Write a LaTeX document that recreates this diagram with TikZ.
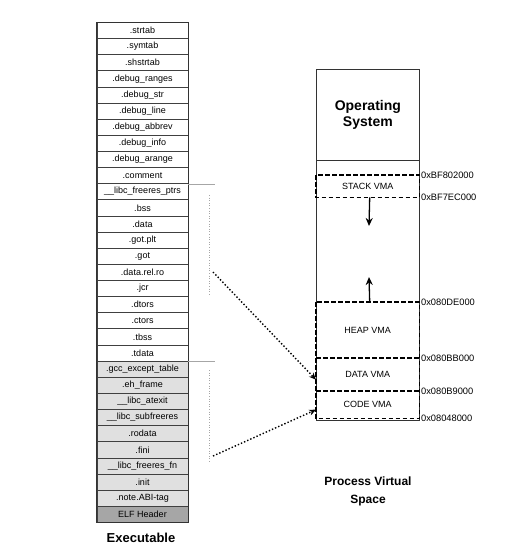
\documentclass[tikz,border=0pt]{standalone}
\usepackage{fontspec}
\setmainfont{Liberation Sans}
\usetikzlibrary{arrows.meta}
\begin{document}
\begin{tikzpicture}[x=1pt,y=-1pt,
  sec/.style={draw=black!75,line width=0.6pt,minimum width=91pt,minimum height=16.13pt,inner sep=0pt,anchor=north,font=\fontsize{9}{9}\selectfont},
  vma/.style={minimum width=103pt,inner sep=0pt,anchor=north west,font=\fontsize{9}{9}\selectfont},
  vmaline/.style={draw=black,line width=1.5pt,dash pattern=on 4.5pt off 2.5pt},
  addr/.style={anchor=west,font=\fontsize{9.3}{9}\selectfont,inner sep=1.5pt},
  title/.style={font=\bfseries\fontsize{13}{15}\selectfont,align=center},
  link/.style={dotted,line width=1.4pt,-{Stealth[length=7pt,width=6pt]}},
  growth/.style={line width=1.3pt,-{Stealth[length=8pt,width=7pt]}},
  faint/.style={draw=black!35,line width=0.6pt}]
\useasboundingbox (0,0) rectangle (531,556);
% executable sections
\foreach \t [count=\i] in {.strtab,.symtab,.shstrtab,.debug\_ranges,.debug\_str,.debug\_line,.debug\_abbrev,.debug\_info,.debug\_arange,.comment,\_\_libc\_freeres\_ptrs,.bss,.data,.got.plt,.got,.data.rel.ro,.jcr,.dtors,.ctors,.tbss,.tdata}{
  \node[sec] (r\i) at (142.5,{22+(\i-1)*16.13}) {\t};
}
\foreach \t [count=\j from 22] in {.gcc\_except\_table,.eh\_frame,\_\_libc\_atexit,\_\_libc\_subfreeres,.rodata,.fini,\_\_libc\_freeres\_fn,.init,.note.ABI-tag}{
  \node[sec,fill=black!12] (r\j) at (142.5,{22+(\j-1)*16.13}) {\t};
}
\node[sec,fill=black!35] (r31) at (142.5,{22+30*16.13}) {ELF Header};
\draw[black!80,line width=0.8pt] (r1.north west) rectangle (r31.south east);
\node[title] (exe) at (141,538) {Executable};
% faint segment markers
\draw[faint] (r10.south east) -- ++(27,0);
\draw[faint] (r21.south east) -- ++(27,0);
\draw[faint,dotted] (209,195) -- (209,295);
\draw[faint,dotted] (209,370) -- (209,462);
% process virtual space
\node[draw=black!80,line width=0.7pt,minimum width=103pt,minimum height=351pt,anchor=north west,inner sep=0pt] (pvs) at (316,69) {};
\node[draw=black!80,line width=0.7pt,minimum width=103pt,minimum height=91pt,anchor=north west,inner sep=0pt,title,font=\bfseries\fontsize{14}{16}\selectfont] (os) at (316,69) {Operating\\System};
\node[vma,minimum height=22pt] (stack) at (316,175) {STACK VMA};
\node[vma,minimum height=56pt] (heap) at (316,302) {HEAP VMA};
\node[vma,minimum height=33pt] (data) at (316,358) {DATA VMA};
\node[vma,minimum height=27pt] (code) at (316,391) {CODE VMA};
\draw[vmaline] (stack.north west) rectangle (stack.south east);
\draw[vmaline] (heap.north west) rectangle (code.south east);
\draw[vmaline] (data.north west) -- (data.north east);
\draw[vmaline] (code.north west) -- (code.north east);
\node[addr] at (stack.north east) {0xBF802000};
\node[addr] at (stack.south east) {0xBF7EC000};
\node[addr] at (heap.north east) {0x080DE000};
\node[addr] at (data.north east) {0x080BB000};
\node[addr] at (code.north east) {0x080B9000};
\node[addr] at (code.south east) {0x08048000};
\coordinate (sdown) at (369,226);
\coordinate (hup) at (369,277);
\draw[growth] (stack.south) ++(2,0) -- (sdown);
\draw[growth] (heap.north) ++(2,0) -- (hup);
\node[title,font=\bfseries\fontsize{12}{18}\selectfont] (pvst) at (368,491) {Process Virtual\\Space};
% links
\coordinate (s1) at (213,272);
\coordinate (s2) at (213,456);
\draw[link] (s1) -- ([yshift=-5pt]data.west);
\draw[link] (s2) -- ([yshift=-5pt]code.west);
\end{tikzpicture}
\end{document}
